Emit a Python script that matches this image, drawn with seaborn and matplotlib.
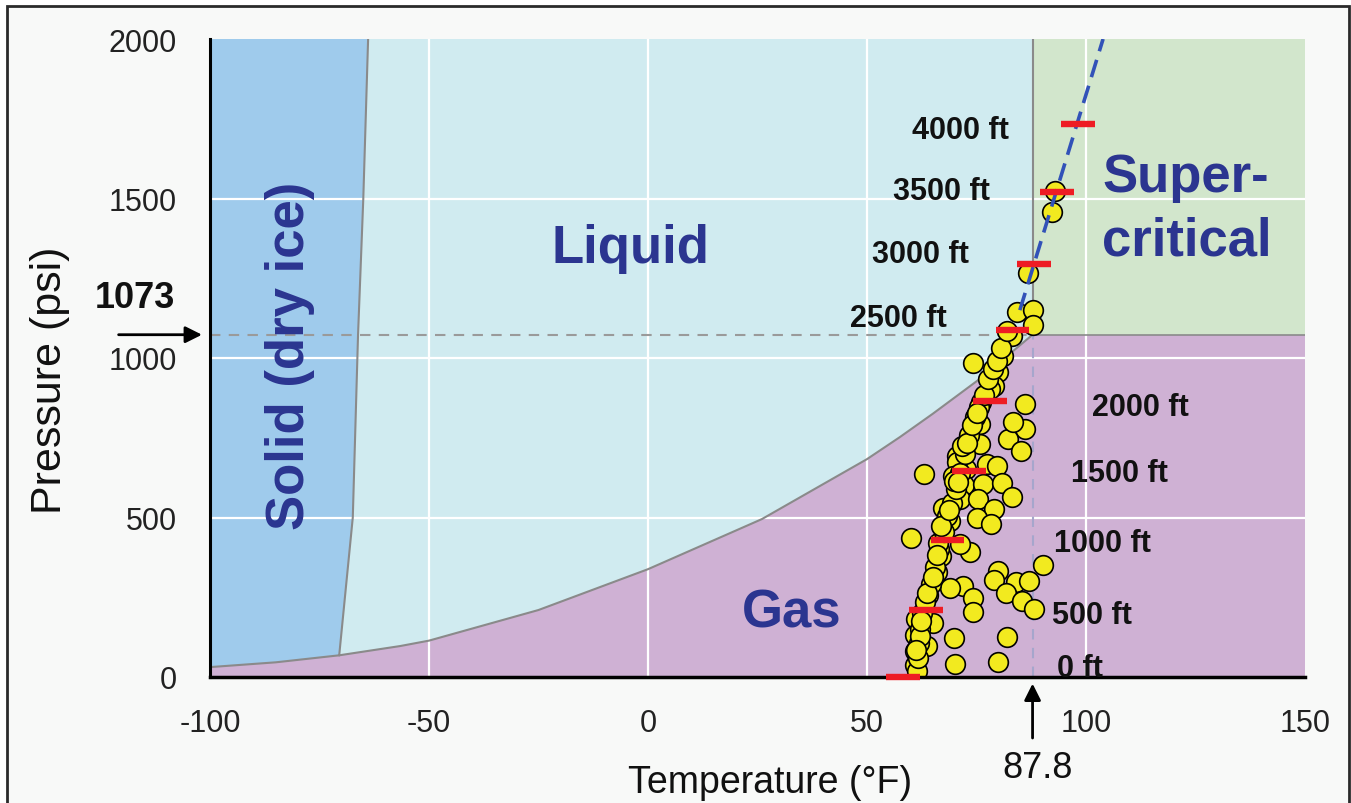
import matplotlib
matplotlib.use('Agg')
import matplotlib.pyplot as plt
from matplotlib.patches import Rectangle
import numpy as np
import seaborn as sns

# phase boundaries (deg F, psi)
subl_t = [-100, -85, -70.5]
subl_p = [31, 46, 68]
melt_t = [-70.5, -67.4, -66.2, -65.0, -63.9]
melt_p = [68, 500, 1073, 1500, 2000]
vap_t = [-70.5, -56.6, -50, -25, 0, 26, 50, 57.5, 65, 75.8, 87.8]
vap_p = [68, 97, 114, 210, 338, 495, 683, 752, 825, 935, 1073]
crit_t = 87.8
crit_p = 1073

# measured well temperatures / pressures
dot_t = [92.9, 92.2, 86.8, 84.2, 88.0, 88.0, 83.2, 81.1, 74.3, 80.0, 78.9, 76.1,
         86.0, 75.8, 86.0, 82.2, 73.1, 85.2, 75.8, 70.5, 63.0, 72.7, 70.5, 77.3,
         79.6, 69.7, 72.2, 76.5, 80.9, 83.2, 71.2, 75.4, 67.4, 78.9, 69.0, 75.0,
         78.4, 60.0, 73.5, 66.8, 90.1, 65.9, 80.0, 79.0, 84.0, 87.0, 72.0, 69.0,
         81.7, 64.0, 74.1, 85.3, 88.2, 74.3, 65.1, 61.2, 61.0, 63.6, 61.0, 61.0,
         69.9, 70.1, 81.9, 80.0, 83.4, 78.1, 66.5, 71.2,
         61.5, 61.6, 61.8, 62.2, 62.6, 63.2, 64.5, 65.5, 66.3, 67.5, 68.2, 69.3,
         70.3, 71.3, 72.3, 73.4, 74.6, 75.6, 76.8, 77.6, 78.7, 79.6, 80.5, 82.0,
         69.8, 71.8, 62.0, 63.8, 65.0, 66.0, 67.0, 68.8, 70.8, 72.8, 74.0, 75.0,
         61.3, 62.4]
dot_p = [1524, 1457, 1266, 1143, 1150, 1103, 1068, 1007, 983, 955, 913, 861,
         856, 793, 777, 746, 741, 707, 730, 694, 636, 652, 673, 668,
         663, 631, 602, 605, 607, 563, 558, 558, 529, 527, 490, 498,
         480, 436, 391, 380, 352, 328, 333, 305, 299, 302, 286, 279,
         263, 258, 248, 239, 213, 203, 169, 182, 132, 98, 80, 38,
         122, 41, 124, 48, 799, 903, 401, 417,
         20, 60, 108, 150, 200, 235, 290, 345, 420, 455, 505, 545,
         590, 640, 700, 760, 815, 845, 885, 935, 965, 990, 1030, 1085,
         615, 725, 130, 262, 312, 382, 472, 525, 612, 732, 790, 828,
         85, 175]

# depth markers
depth_labels = ['0 ft', '500 ft', '1000 ft', '1500 ft', '2000 ft',
                '2500 ft', '3000 ft', '3500 ft', '4000 ft']
bar_t = [58.2, 63.5, 68.3, 73.3, 78.1, 83.3, 88.1, 93.4, 98.2]
bar_p = [0, 210, 429, 646, 865, 1088, 1295, 1520, 1734]
geo_t = [84.9, 103.9]
geo_p = [1150, 2000]

xticks = [-100, -50, 0, 50, 100, 150]
yticks = [0, 500, 1000, 1500, 2000]

sns.set_style('white')
plt.rcParams['font.family'] = ['Liberation Sans', 'DejaVu Sans']

fig = plt.figure(figsize=(13.51, 8.04), dpi=100, facecolor='white')
fig.add_artist(Rectangle((7 / 1351, -0.05), 1342 / 1351, 797 / 804 + 0.05,
                         transform=fig.transFigure, fc='#f8f9f8', ec='#2a2a2a',
                         lw=2, zorder=-10))
ax = fig.add_axes([210 / 1351, 1 - 678 / 804, 1095 / 1351, 638 / 804])
ax.set_facecolor('#cfb1d4')
ax.set_xlim(-100, 150)
ax.set_ylim(0, 2000)

# regions
liq_t = melt_t + [crit_t, crit_t] + vap_t[::-1]
liq_p = melt_p + [2000, crit_p] + vap_p[::-1]
ax.fill(liq_t, liq_p, color='#d0ebf0', lw=0, zorder=0.2)
sol_t = subl_t + melt_t[1:] + [-100]
sol_p = subl_p + melt_p[1:] + [2000]
ax.fill(sol_t, sol_p, color='#9fcbec', lw=0, zorder=0.2)
ax.fill([crit_t, 150, 150, crit_t], [crit_p, crit_p, 2000, 2000],
        color='#d2e6cc', lw=0, zorder=0.2)

# grid
for x in xticks[1:-1]:
    ax.axvline(x, color='white', lw=1.6, zorder=0.5)
for y in yticks[1:-1]:
    ax.axhline(y, color='white', lw=1.6, zorder=0.5)

# boundary lines
bc = '#8a8a8a'
ax.plot(subl_t, subl_p, color=bc, lw=1.5, zorder=1)
ax.plot(melt_t, melt_p, color=bc, lw=1.5, zorder=1)
ax.plot(vap_t, vap_p, color=bc, lw=1.5, zorder=1)
ax.plot([crit_t, crit_t], [crit_p, 2000], color=bc, lw=1.5, zorder=1)
ax.plot([crit_t, 150], [crit_p, crit_p], color=bc, lw=1.2, zorder=1)
ax.plot([-100, crit_t], [crit_p, crit_p], color='#9a9a9a', lw=1.5,
        ls=(0, (5, 4)), zorder=1)
ax.plot([crit_t, crit_t], [0, crit_p], color='#a6a6cc', lw=1.5,
        ls=(0, (5, 4)), zorder=1)

# data
sns.scatterplot(x=dot_t, y=dot_p, s=200, color='#f2ea1f', edgecolor='black',
                linewidth=1.2, ax=ax, zorder=3, legend=False)
ax.plot(geo_t, geo_p, color='#3252b8', lw=2.6, ls=(0, (5, 2.5)), zorder=4)
ax.hlines(bar_p, np.array(bar_t) - 3.8, np.array(bar_t) + 3.8,
          colors='#ee1c24', lw=4.6, zorder=5, clip_on=False)

# depth labels
lab_pos = [(93.4, 3, 'left'), (92.2, 169, 'left'), (92.7, 395, 'left'),
           (96.6, 614, 'left'), (101.4, 821, 'left'), (68.3, 1100, 'right'),
           (73.3, 1301, 'right'), (78.1, 1498, 'right'), (82.4, 1690, 'right')]
for lab, (tx, ty, ha) in zip(depth_labels, lab_pos):
    ax.text(tx, ty, lab, ha=ha, va='baseline', fontsize=22,
            fontweight='bold', color='#111111', zorder=6)

# region names
rc = '#2b3590'
ax.text(-3.9, 1301, 'Liquid', ha='center', va='baseline', fontsize=38,
        fontweight='bold', color=rc)
ax.text(32.9, 157, 'Gas', ha='center', va='baseline', fontsize=38,
        fontweight='bold', color=rc)
ax.text(103.7, 1524, 'Super-', ha='left', va='baseline', fontsize=38,
        fontweight='bold', color=rc)
ax.text(103.7, 1326, 'critical', ha='left', va='baseline', fontsize=38,
        fontweight='bold', color=rc)
ax.text(-81.7, 1010, 'Solid (dry ice)', ha='center', va='center',
        rotation=90, fontsize=38, fontweight='bold', color=rc)

# critical point annotations
ax.annotate('', xy=(-101.2, crit_p), xytext=(-121.5, crit_p),
            arrowprops=dict(arrowstyle='-|>', color='black', lw=2,
                            mutation_scale=25), annotation_clip=False)
ax.text(-117.1, 1160, '1073', ha='center', va='baseline', fontsize=26,
        fontweight='bold', color='#111111', clip_on=False)
ax.annotate('', xy=(crit_t, -12), xytext=(crit_t, -200),
            arrowprops=dict(arrowstyle='-|>', color='black', lw=2,
                            mutation_scale=25), annotation_clip=False)
ax.text(89.0, -313, '87.8', ha='center', va='baseline', fontsize=26,
        color='#111111', clip_on=False)

# axes styling
ax.set_xticks(xticks)
ax.set_yticks(yticks)
tick_font = dict(family=['Liberation Sans Narrow', 'Liberation Sans'],
                 size=22, color='#222222')
ax.set_xticklabels([str(v) for v in xticks], fontdict=tick_font)
ax.set_yticklabels([str(v) for v in yticks], fontdict=tick_font)
ax.tick_params(axis='both', length=0)
ax.tick_params(axis='x', pad=22)
ax.tick_params(axis='y', pad=24)
for side in ['top', 'right']:
    ax.spines[side].set_visible(False)
ax.spines['left'].set_color('black')
ax.spines['left'].set_linewidth(2.2)
ax.spines['bottom'].set_color('black')
ax.spines['bottom'].set_linewidth(2.5)
ax.spines['left'].set_zorder(6)
ax.spines['bottom'].set_zorder(4.5)

fig.text(770 / 1351, 1 - 793 / 804, 'Temperature (°F)', ha='center',
         va='baseline', fontsize=27, color='#111111')
fig.text(50 / 1351, 1 - 380 / 804, 'Pressure (psi)', ha='center',
         va='center', rotation=90, fontsize=31, color='#111111')

fig.savefig('out.png', dpi=100, facecolor=fig.get_facecolor())
